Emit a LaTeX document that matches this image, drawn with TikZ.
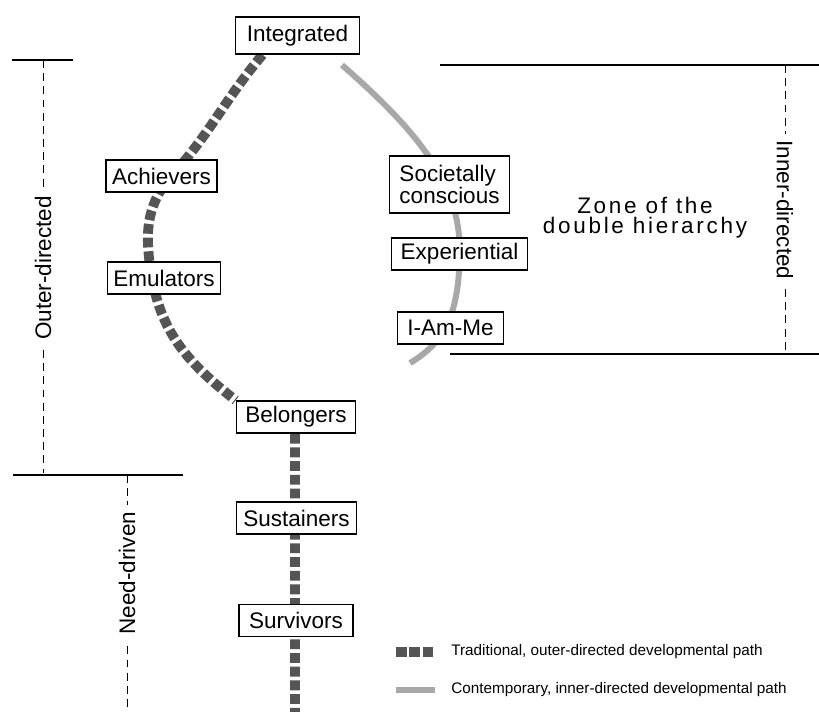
\documentclass[tikz,border=0pt]{standalone}
\usepackage{fontspec}
\setmainfont{Liberation Sans}
\newfontfamily\widefont[LetterSpace=12]{Liberation Sans}
\usetikzlibrary{backgrounds}

\definecolor{tradColor}{RGB}{85,85,85}
\definecolor{contColor}{RGB}{168,168,168}

\tikzset{
  segment/.style={draw, fill=white, line width=0.8pt, inner xsep=0.16cm, inner ysep=0pt,
    minimum height=0.64cm, font=\fontsize{12.8}{11.5}\selectfont},
  tradpath/.style={draw=tradColor, line width=5.6pt, dash pattern=on 5.6pt off 2.2pt},
  contpath/.style={draw=contColor, line width=3.4pt},
  rule/.style={line width=0.8pt},
  sideline/.style={line width=0.5pt, dash pattern=on 4.5pt off 3pt},
  sidelabel/.style={fill=white, inner xsep=4pt, inner ysep=1pt, font=\fontsize{12.8}{14}\selectfont},
  legendtext/.style={anchor=west, inner sep=0pt, font=\fontsize{8.7}{10}\selectfont}
}

\begin{document}
\begin{tikzpicture}
  \useasboundingbox (0,0) rectangle (16.38,-14.22);
  % Segments
  \node[segment, minimum height=0.74cm, inner xsep=0.23cm] (integ) at (5.95,-0.71) {Integrated};
  \node[segment, inner xsep=0.12cm] (achiev) at (3.23,-3.52) {Achievers};
  \node[segment, inner xsep=0.12cm] (emul) at (3.28,-5.56) {Emulators};
  \node[segment, align=left, minimum height=1.14cm, inner xsep=0.2cm] (societ) at (8.99,-3.69) {Societally\\conscious};
  \node[segment, inner xsep=0.18cm] (exper) at (9.19,-5.08) {Experiential};
  \node[segment, inner xsep=0.2cm] (iamme) at (9.01,-6.56) {I-Am-Me};
  \node[segment, inner xsep=0.18cm] (belong) at (5.92,-8.34) {Belongers};
  \node[segment, inner xsep=0.14cm] (sustain) at (5.93,-10.36) {Sustainers};
  \node[segment, inner xsep=0.2cm] (surviv) at (5.92,-12.41) {Survivors};
  \node[align=center, inner sep=0pt, font=\widefont\fontsize{12.8}{11.4}\selectfont] (zone) at (12.9,-4.36) {Zone of the\\double hierarchy};
  \coordinate (pathEnd) at (5.9,-14.4);
  \coordinate (contStart) at (6.84,-1.3);
  \coordinate (contEnd) at (8.2,-7.26);
  % Paths
  \begin{scope}[on background layer]
    \draw[tradpath] ([xshift=-0.7cm]integ.south) to[out=230,in=48] ([xshift=0.2cm]achiev.center)
      to[out=228,in=100] ([xshift=-0.24cm]emul.center) to[out=280,in=142] (belong.north west);
    \draw[tradpath] ([xshift=-0.02cm]belong.south) -- (pathEnd);
    \draw[contpath] (contStart) .. controls +(1.36,-1.2) and +(0.05,1.48) .. (exper.center)
      .. controls +(0,-1.32) and +(0.6,0.36) .. (contEnd);
  \end{scope}
  % Outer-directed
  \coordinate (outerTop) at (0.86,-1.2);
  \coordinate (outerBot) at (0.86,-9.46);
  \draw[rule] (0.24,-1.2) -- (1.46,-1.2);
  \draw[sideline] (outerTop) -- (outerBot);
  \node[sidelabel, rotate=90] (outer) at (0.86,-5.36) {Outer-directed};
  % Need-driven
  \coordinate (needTop) at (2.54,-9.5);
  \coordinate (needBot) at (2.54,-14.3);
  \draw[rule] (0.26,-9.5) -- (3.66,-9.5);
  \draw[sideline] (needTop) -- (needBot);
  \node[sidelabel, rotate=90] (need) at (2.54,-11.46) {Need-driven};
  % Inner-directed
  \coordinate (innerTop) at (15.7,-1.3);
  \coordinate (innerBot) at (15.7,-7.08);
  \draw[rule] (8.8,-1.3) -- (16.38,-1.3);
  \draw[rule] (9.0,-7.08) -- (16.38,-7.08);
  \draw[sideline] (innerTop) -- (innerBot);
  \node[sidelabel, rotate=-90] (inner) at (15.7,-4.2) {Inner-directed};
  % Legend
  \node[legendtext] (legtrad) at (9.02,-13.04) {Traditional, outer-directed developmental path};
  \node[legendtext] (legcont) at (9.02,-13.8) {Contemporary, inner-directed developmental path};
  \draw[tradColor, line width=5.4pt, dash pattern=on 6pt off 1.6pt] ([xshift=-1.1cm]legtrad.west) -- ([xshift=-0.33cm]legtrad.west);
  \draw[contColor, line width=3.2pt] ([xshift=-1.1cm]legcont.west) -- ([xshift=-0.33cm]legcont.west);
\end{tikzpicture}
\end{document}
